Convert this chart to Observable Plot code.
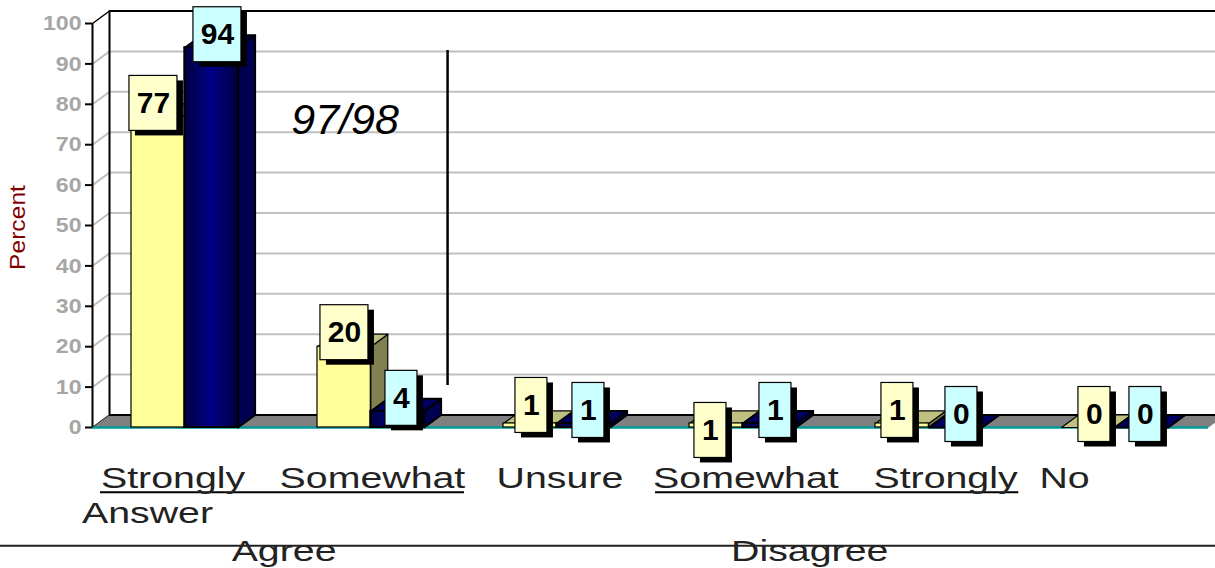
<!DOCTYPE html>
<html>
<head>
<meta charset="utf-8">
<style>html,body{margin:0;padding:0;background:#fff}svg{display:block}</style>
<script src="https://cdn.jsdelivr.net/npm/d3@7"></script>
<script src="https://cdn.jsdelivr.net/npm/@observablehq/plot@0.6"></script>
</head>
<body>
<script>
const year97 = [77, 20, 1, 1, 1, 0];
const year98 = [94, 4, 1, 1, 0, 0];
const yTicks = [0, 10, 20, 30, 40, 50, 60, 70, 80, 90, 100];
const categories = ["Strongly", "Somewhat", "Unsure", "Somewhat", "Strongly", "No"];
const categoryCenters = [0.433, 0.505, 0.513, 0.513, 0.586, 0.226];
const yellowOffsetX = [-4.7, 0.3, 1.3, -5.7, -4.7, 6.3];
const yellowOffsetY = [13, 14, 18, -7, 13, 13];
const navyOffsetX = [6, 4, 5, 6, 6, 4];
const navyOffsetY = [13, 13, 13, 13, 13, 13];

const font = "Liberation Sans, Arial, sans-serif";
const unitX = 1 / 186, unitY = 1 / 4.04;
const depthX = 17 * unitX, depthY = 12.5 * unitY;
const barStart = 39 * unitX, barWidth = 53.3 * unitX;

const stretch = k => (index, scales, values, dims, ctx, next) => {
  const g = next(index, scales, values, dims, ctx);
  g.querySelectorAll("text").forEach(t =>
    t.setAttribute("transform", (t.getAttribute("transform") || "") + ` scale(${k},1)`));
  return g;
};

const polygon = (rows, fill, stroke, strokeWidth) =>
  Plot.line(rows, {x: "x", y: "y", z: "id", fill, stroke, strokeWidth, curve: "linear-closed"});

const side = (vals, slot) => vals.flatMap((v, i) => {
  const a = i + barStart + slot * barWidth + barWidth;
  return [[a, 0], [a + depthX, depthY], [a + depthX, v + depthY], [a, v]].map(([x, y]) => ({id: i, x, y}));
});
const top_ = (vals, slot) => vals.flatMap((v, i) => {
  const a = i + barStart + slot * barWidth;
  return [[a, v], [a + barWidth, v], [a + barWidth + depthX, v + depthY], [a + depthX, v + depthY]].map(([x, y]) => ({id: i, x, y}));
});
const fronts = (vals, slot) => vals.map((v, i) => ({
  x1: i + barStart + slot * barWidth, x2: i + barStart + (slot + 1) * barWidth, y2: v
}));
const labels = (vals, slot, ox, oy) => vals.map((v, i) => {
  const cx = i + barStart + (slot + 0.5) * barWidth + ox[i] * unitX;
  const cy = v + oy[i] * unitY;
  const w = (v >= 10 ? 24 : 16) * unitX, h = 27.5 * unitY;
  return {v, cx, cy, x1: cx - w, x2: cx + w, y1: cy - h, y2: cy + h};
});

const yl = labels(year97, 0, yellowOffsetX, yellowOffsetY);
const nl = labels(year98, 1, navyOffsetX, navyOffsetY);

const floorRows = [[0, 0], [6, 0], [6 + depthX, depthY], [depthX, depthY]].map(([x, y]) => ({id: 0, x, y}));
const diagonals = yTicks.flatMap(t => [[0, t], [depthX, t + depthY]].map(([x, y]) => ({t, x, y})));
const row1 = -12.6, row2 = -21.3, row3 = -30.7, ruleRow = -29.3, underline = -16;

const gradient = () => {
  const defs = d3.create("svg:defs");
  const g = defs.append("linearGradient").attr("id", "navy");
  [[0, "#000040"], [0.5, "#000088"], [1, "#000040"]].forEach(([o, c]) =>
    g.append("stop").attr("offset", o).attr("stop-color", c));
  return defs.node();
};

const box = (rows, fill) => [
  Plot.rect(rows, {x1: "x1", x2: "x2", y1: "y1", y2: "y2", fill: "#000", dx: 6, dy: 5}),
  Plot.rect(rows, {x1: "x1", x2: "x2", y1: "y1", y2: "y2", fill, stroke: "#000", strokeWidth: 1.2}),
  Plot.text(rows, {x: "cx", y: "cy", text: d => String(d.v), fontSize: 30, fontWeight: "bold", fontFamily: font, fill: "#000"})
];

const bar = (vals, slot, front, sideFill, topFill, sw) => [
  polygon(side(vals, slot), sideFill, "#000", sw),
  polygon(top_(vals, slot), topFill, "#000", sw),
  Plot.rect(fronts(vals, slot), {x1: "x1", x2: "x2", y1: 0, y2: "y2", fill: front, stroke: "#000", strokeWidth: sw})
];

const categoryRows = categories.map((c, i) => ({c, x: i + categoryCenters[i]}));
const bigText = {fontSize: 30, fontFamily: font, fill: "#222", render: stretch(1.31)};

const plot = Plot.plot({
  width: 1215, height: 568,
  marginLeft: 92, marginRight: 7, marginTop: 23, marginBottom: 141,
  style: {background: "#fff"},
  x: {domain: [0, 6], axis: null},
  y: {domain: [0, 100]},
  marks: [
    gradient,
    Plot.ruleY(yTicks.slice(1, -1), {x1: depthX, x2: 6 + depthX, y: t => t + depthY, stroke: "#c0c0c0", strokeWidth: 2}),
    Plot.line(diagonals.filter(d => d.t > 0 && d.t < 100), {x: "x", y: "y", z: "t", stroke: "#c0c0c0", strokeWidth: 2}),
    Plot.line(diagonals.filter(d => d.t === 0 || d.t === 100), {x: "x", y: "y", z: "t", stroke: "#000", strokeWidth: 1.5}),
    Plot.ruleY([100 + depthY], {x1: depthX, x2: 6 + depthX, stroke: "#000", strokeWidth: 2}),
    Plot.ruleX([depthX], {y1: depthY, y2: 100 + depthY, stroke: "#000", strokeWidth: 2}),
    polygon(floorRows, "#808080", "none", 0),
    Plot.ruleY([depthY], {x1: depthX, x2: 6 + depthX, stroke: "#000", strokeWidth: 2}),
    Plot.ruleY([0], {x1: 0, x2: 6, stroke: "#009999", strokeWidth: 2.5}),
    Plot.ruleX([0], {y1: 0, y2: 100, stroke: "#000", strokeWidth: 2}),
    Plot.axisY(yTicks, {
      anchor: "left", tickSize: 7, tickPadding: 4, stroke: "#000", strokeWidth: 2,
      fill: "#a6a6a6", fontSize: 21, fontWeight: "bold", fontFamily: font, label: null
    }),
    ...bar(year97, 0, "#ffff99", "#808050", "#c0c080", 1.2),
    ...bar(year98, 1, "url(#navy)", "#000050", "#000060", 2),
    Plot.ruleX([1.909], {y1: 10.4, y2: 93.3, stroke: "#000", strokeWidth: 2.5}),
    ...box(yl, "#ffffcc"),
    ...box(nl, "#ccffff"),
    Plot.text(["97/98"], {x: 1.069, y: 76, text: d => d, textAnchor: "start", fontSize: 43, fontStyle: "italic", fontFamily: font, fill: "#000"}),
    Plot.text(["Percent"], {x: -0.4, y: 49.5, text: d => d, rotate: -90, fontSize: 22, fontFamily: font, fill: "#800000", render: stretch(1.12)}),
    Plot.ruleY([underline], {x1: 0.043, x2: 2.0, stroke: "#000", strokeWidth: 2}),
    Plot.ruleY([underline], {x1: 3.027, x2: 4.98, stroke: "#000", strokeWidth: 2}),
    Plot.ruleY([ruleRow], {x1: -0.5, x2: 6.04, stroke: "#222", strokeWidth: 2}),
    Plot.text(categoryRows, {x: "x", y: row1, text: "c", ...bigText}),
    Plot.text(["Answer"], {x: 0.296, y: row2, text: d => d, ...bigText}),
    Plot.text(["Agree"], {x: 1.03, y: row3, text: d => d, ...bigText}),
    Plot.text(["Disagree"], {x: 3.856, y: row3, text: d => d, ...bigText})
  ]
});

plot.querySelectorAll('[aria-label="y-axis tick label"] text').forEach(t =>
  t.setAttribute("transform", (t.getAttribute("transform") || "") + " scale(1.1,1)"));
document.body.appendChild(plot);
</script>
</body>
</html>
